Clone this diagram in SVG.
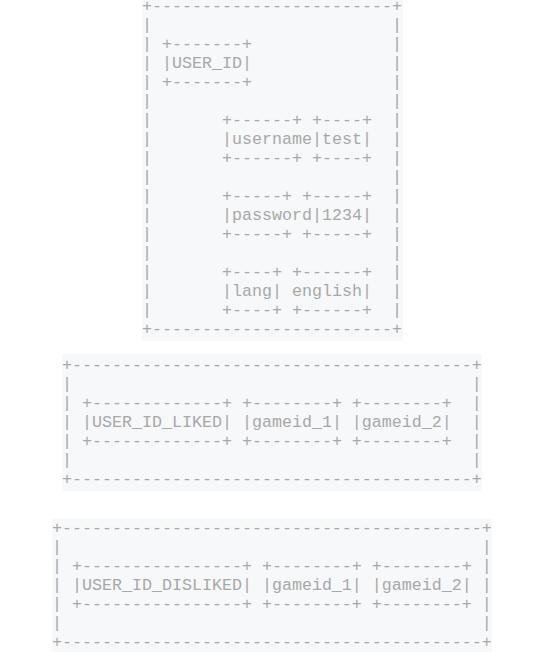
<svg xmlns="http://www.w3.org/2000/svg" width="546" height="654" viewBox="0 0 546 654">
<style>
.bg{fill:#f6f8fa}
.t{font-family:"Liberation Mono","Courier New",monospace;font-size:16.667px;fill:#a8a8a8;white-space:pre}
</style>
<rect width="546" height="654" fill="#ffffff"/>
<g id="user-block">
<rect class="bg" x="142" y="0" width="261" height="341"/>
<text class="t" xml:space="preserve">
<tspan x="142" y="11.2">+------------------------+</tspan>
<tspan x="142" y="30.2">|                        |</tspan>
<tspan x="142" y="49.2">| +-------+              |</tspan>
<tspan x="142" y="68.2">| |USER_ID|              |</tspan>
<tspan x="142" y="87.2">| +-------+              |</tspan>
<tspan x="142" y="106.2">|                        |</tspan>
<tspan x="142" y="125.2">|       +------+ +----+  |</tspan>
<tspan x="142" y="144.2">|       |username|test|  |</tspan>
<tspan x="142" y="163.2">|       +------+ +----+  |</tspan>
<tspan x="142" y="182.2">|                        |</tspan>
<tspan x="142" y="201.2">|       +-----+ +-----+  |</tspan>
<tspan x="142" y="220.2">|       |password|1234|  |</tspan>
<tspan x="142" y="239.2">|       +-----+ +-----+  |</tspan>
<tspan x="142" y="258.2">|                        |</tspan>
<tspan x="142" y="277.2">|       +----+ +------+  |</tspan>
<tspan x="142" y="296.2">|       |lang| english|  |</tspan>
<tspan x="142" y="315.2">|       +----+ +------+  |</tspan>
<tspan x="142" y="334.2">+------------------------+</tspan>
</text>
</g>
<g id="liked-block">
<rect class="bg" x="62" y="354" width="420" height="137"/>
<text class="t" xml:space="preserve">
<tspan x="62" y="370.2">+----------------------------------------+</tspan>
<tspan x="62" y="389.2">|                                        |</tspan>
<tspan x="62" y="408.2">| +-------------+ +--------+ +--------+  |</tspan>
<tspan x="62" y="427.2">| |USER_ID_LIKED| |gameid_1| |gameid_2|  |</tspan>
<tspan x="62" y="446.2">| +-------------+ +--------+ +--------+  |</tspan>
<tspan x="62" y="465.2">|                                        |</tspan>
<tspan x="62" y="484.2">+----------------------------------------+</tspan>
</text>
</g>
<g id="disliked-block">
<rect class="bg" x="52" y="519" width="440" height="133"/>
<text class="t" xml:space="preserve">
<tspan x="52" y="532.5">+------------------------------------------+</tspan>
<tspan x="52" y="551.5">|                                          |</tspan>
<tspan x="52" y="570.5">| +----------------+ +--------+ +--------+ |</tspan>
<tspan x="52" y="589.5">| |USER_ID_DISLIKED| |gameid_1| |gameid_2| |</tspan>
<tspan x="52" y="608.5">| +----------------+ +--------+ +--------+ |</tspan>
<tspan x="52" y="627.5">|                                          |</tspan>
<tspan x="52" y="646.5">+------------------------------------------+</tspan>
</text>
</g>
<g id="connectors"/>
</svg>
